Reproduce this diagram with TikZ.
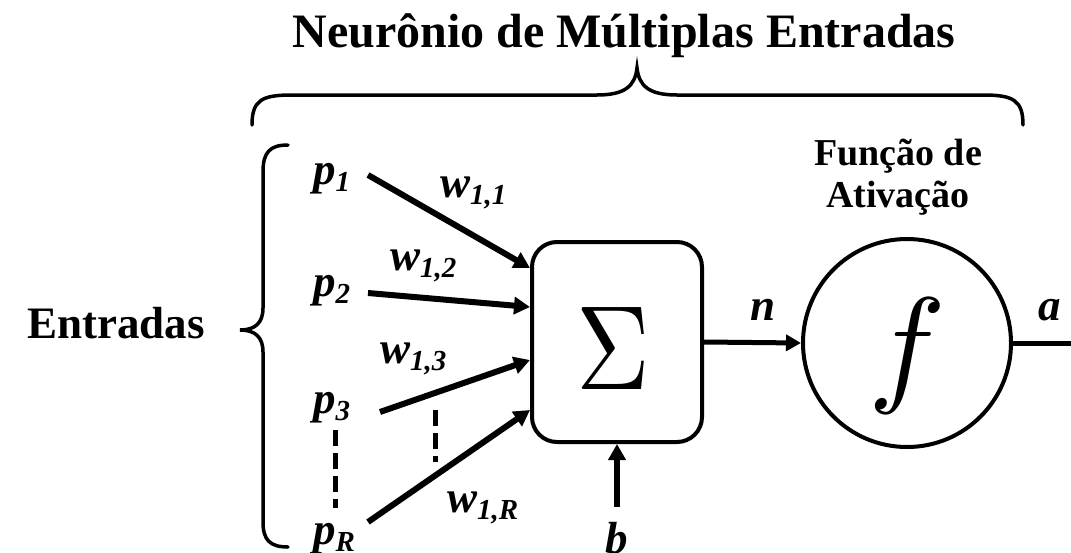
\documentclass[tikz,border=0pt]{standalone}
\usepackage{fontspec}
\setmainfont{Liberation Serif}
\usetikzlibrary{arrows.meta}
\newcommand\lowsub[1]{\raisebox{-7pt}{\fontsize{29}{29}\selectfont #1}}
\begin{document}
\begin{tikzpicture}[x=1pt,y=-1pt,
  lab/.style={font=\fontsize{45}{45}\selectfont\bfseries\itshape, inner sep=0pt, anchor=base west},
  head/.style={font=\fontsize{48}{48}\selectfont\bfseries, inner sep=0pt, anchor=base},
  conn/.style={line width=6pt, -{Triangle[length=16pt,width=17pt]}},
  thinconn/.style={line width=5pt, -{Triangle[length=15pt,width=16pt]}},
  brc/.style={line width=3.5pt, line cap=round},
  dsh/.style={line width=5pt, dash pattern=on 16pt off 7pt},
]
\useasboundingbox (0,0) rectangle (1071,552);

% titles
\node[head] (title) at (624,47) {Neurônio de Múltiplas Entradas};
\node[head, font=\fontsize{45}{45}\selectfont\bfseries] (entr) at (116,338) {Entradas};
\node[head, font=\fontsize{38}{38}\selectfont\bfseries] (fn1) at (898,165) {Função de};
\node[head, font=\fontsize{38}{38}\selectfont\bfseries] (fn2) at (898,207) {Ativação};

% braces
\draw[brc] (252,125) .. controls (252,100) and (262,95) .. (292,95) -- (597,95)
  .. controls (625,95) and (635,86) .. (637,68)
  .. controls (639,86) and (649,95) .. (677,95) -- (983,95)
  .. controls (1013,95) and (1023,100) .. (1023,125);
\draw[brc] (288,145) .. controls (270,145) and (263,152) .. (263,172) -- (263,308)
  .. controls (263,323) and (255,330) .. (240,330)
  .. controls (255,330) and (263,337) .. (263,352) -- (263,522)
  .. controls (263,540) and (270,547) .. (288,547);

% summation and activation
\node[draw, line width=4pt, rounded corners=25pt, minimum width=170pt, minimum height=200pt,
      inner sep=0pt, text height=95pt, text depth=1pt] (sum) at (617,342)
      {\kern-8pt\scalebox{10.2}[12]{$\Sigma$}};
\node[draw, circle, line width=4pt, minimum size=208pt, inner sep=0pt,
      text height=115pt, text depth=25pt] (act) at (907,343)
      {\scalebox{13}{$f$}};

% inputs
\node[lab] (p1) at (313,184) {p\lowsub{1}};
\node[lab] (p2) at (313,296) {p\lowsub{2}};
\node[lab] (p3) at (313,413) {p\lowsub{3}};
\node[lab] (pR) at (313,544) {p\lowsub{R}};

\node[lab] (w11) at (440,197) {w\lowsub{1,1}};
\node[lab] (w12) at (390,270) {w\lowsub{1,2}};
\node[lab] (w13) at (380,363) {w\lowsub{1,3}};
\node[lab] (w1R) at (447,512) {w\lowsub{1,R}};

\coordinate (s1) at (368,175);
\coordinate (s2) at (368,293);
\coordinate (s3) at (380,412);
\coordinate (s4) at (368,522);
\draw[conn] (s1) -- ([yshift=74pt]sum.west);
\draw[conn] (s2) -- ([yshift=35pt]sum.west);
\draw[conn] (s3) -- ([yshift=-18pt]sum.west);
\draw[conn] (s4) -- ([yshift=-68pt]sum.west);

% ellipsis dashes
\coordinate (d1a) at (335,430);
\coordinate (d1b) at (335,508);
\coordinate (d2a) at (435,410);
\coordinate (d2b) at (435,462);
\draw[dsh] (d1a) -- (d1b);
\draw[dsh] (d2a) -- (d2b);

% bias
\coordinate (bs) at (617,507);
\draw[conn] (bs) -- (sum.south);
\node[lab] (b) at (605,553) {b};

% n and a
\draw[thinconn] (sum.east) -- (act.west);
\node[lab] (n) at (750,320) {n};
\coordinate (out) at (1075,343);
\draw[line width=5pt] (act.east) -- (out);
\node[lab] (a) at (1038,320) {a};
\end{tikzpicture}
\end{document}
